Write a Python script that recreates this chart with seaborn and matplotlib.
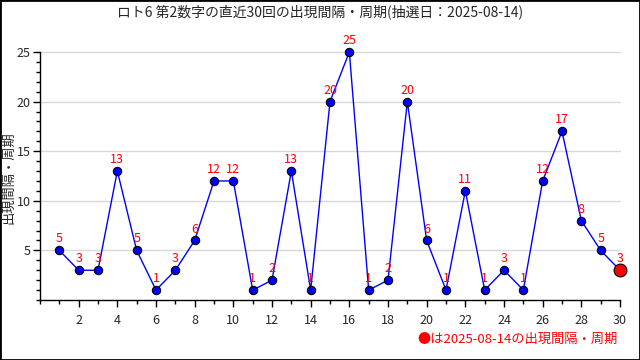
import matplotlib
matplotlib.use("Agg")

import matplotlib.pyplot as plt
import seaborn as sns
import pandas as pd
from matplotlib.ticker import MultipleLocator
from matplotlib.patches import Rectangle

# draw numbers 1..30 and the gap (interval) for digit 2
draws = list(range(1, 31))
gaps = [5, 3, 3, 13, 5, 1, 3, 6, 12, 12, 1, 2, 13, 1, 20,
        25, 1, 2, 20, 6, 1, 11, 1, 3, 1, 12, 17, 8, 5, 3]

title = "ロト6 第2数字の直近30回の出現間隔・周期(抽選日：2025-08-14)"
ylabel = "出現間隔・周期"
note = "●は2025-08-14の出現間隔・周期"

sns.set_style("white")
plt.rcParams["font.family"] = ["Noto Sans CJK JP", "DejaVu Sans"]

df = pd.DataFrame({"draw": draws, "gap": gaps})

fig = plt.figure(figsize=(6.4, 3.6), dpi=100)
ax = fig.add_axes([40 / 640, 60 / 360, 580 / 640, 248 / 360])

# horizontal grid at labelled y ticks
for v in [5, 10, 15, 20, 25]:
    ax.axhline(v, color="#d8d8d8", lw=1, zorder=0)

sns.lineplot(data=df, x="draw", y="gap", color="#0000ff", lw=1, ax=ax, zorder=2)
sns.scatterplot(data=df.iloc[:-1], x="draw", y="gap", color="#0000ff",
                edgecolor="black", linewidth=0.8, s=36, ax=ax, zorder=3)
sns.scatterplot(data=df.iloc[-1:], x="draw", y="gap", color="#ff0000",
                edgecolor="black", linewidth=0.8, s=85, ax=ax, zorder=4)
for coll in ax.collections:
    coll.set_clip_on(False)
for ln in ax.lines:
    ln.set_clip_on(False)

# red value labels above each point
for d, g in zip(draws, gaps):
    ax.text(d, g + 0.5, str(g), color="#ff0000", fontsize=9,
            ha="center", va="bottom", zorder=5)

ax.set_xlim(0, 30)
ax.set_ylim(0, 25)
ax.xaxis.set_minor_locator(MultipleLocator(1))
ax.yaxis.set_minor_locator(MultipleLocator(1))
ax.set_yticks([5, 10, 15, 20, 25])
ax.set_xticks(range(2, 31, 2))
ax.tick_params(axis="both", which="both", direction="out", color="black",
               labelsize=9, bottom=True, left=True)
ax.tick_params(which="major", length=5, width=1)
ax.tick_params(which="minor", length=3, width=1)
ax.tick_params(axis="x", pad=5)
ax.tick_params(axis="y", pad=1.5)

for side in ["top", "right"]:
    ax.spines[side].set_visible(False)
for side in ["left", "bottom"]:
    ax.spines[side].set_color("black")
    ax.spines[side].set_linewidth(1)

ax.set_xlabel("")
ax.set_ylabel("")
fig.text(9 / 640, 1 - 178 / 360, ylabel, rotation=90,
         ha="center", va="center", fontsize=9.5)

fig.text(0.5, 1 - 12 / 360, title, ha="center", va="center", fontsize=10)
fig.text(618 / 640, 1 - 339 / 360, note, ha="right", va="center",
         color="#ff0000", fontsize=9.5)

# black frame around the whole image
fig.patches.append(Rectangle((0, 0), 1, 1, transform=fig.transFigure,
                             fill=False, edgecolor="black", lw=2))

fig.savefig("out.png", dpi=100)
plt.close(fig)
